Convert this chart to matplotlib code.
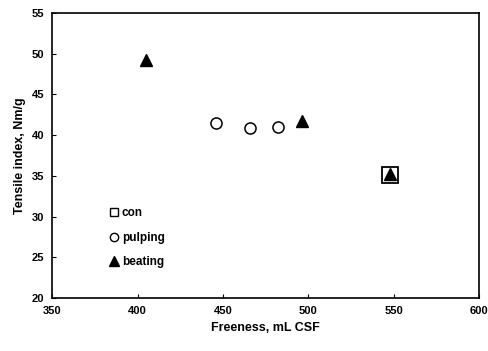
import matplotlib
matplotlib.use('Agg')
import matplotlib.pyplot as plt

plt.rcParams['font.family'] = ['Liberation Sans', 'DejaVu Sans']
plt.rcParams['font.weight'] = 'bold'

# data
con_x = [548]
con_y = [35.1]
pulping_x = [446, 466, 482]
pulping_y = [41.5, 40.9, 41.0]
beating_x = [405, 496, 548]
beating_y = [49.2, 41.7, 35.2]

fig = plt.figure(figsize=(4.88, 3.51), dpi=100)
ax = fig.add_axes([0.107, 0.151, 0.875, 0.812])

ax.plot(con_x, con_y, 's', ms=11, mfc='white', mec='black', mew=1.3, label='con', linestyle='none')
ax.plot(pulping_x, pulping_y, 'o', ms=8, mfc='white', mec='black', mew=1.1, label='pulping', linestyle='none')
ax.plot(beating_x, beating_y, '^', ms=8.5, color='black', label='beating', linestyle='none')

ax.set_xlim(350, 600)
ax.set_ylim(20, 55)
ax.set_xticks(range(350, 601, 50))
ax.set_yticks(range(20, 56, 5))
ax.tick_params(direction='in', length=3, width=0.8, labelsize=8, pad=6)
for s in ax.spines.values():
    s.set_linewidth(1.2)

ax.set_xlabel('Freeness, mL CSF', fontsize=9, fontweight='bold')
ax.set_ylabel('Tensile index, Nm/g', fontsize=9, fontweight='bold')

leg = ax.legend(loc='upper left', bbox_to_anchor=(0.105, 0.355), frameon=False,
                fontsize=8.5, handletextpad=0.1, labelspacing=1.05,
                handlelength=1.1)
# smaller legend markers, like the original
for h, ms in zip(leg.legend_handles, [6, 6, 6.5]):
    h.set_markersize(ms)
    h.set_markeredgewidth(1.0)

fig.savefig('out.png', dpi=100)
